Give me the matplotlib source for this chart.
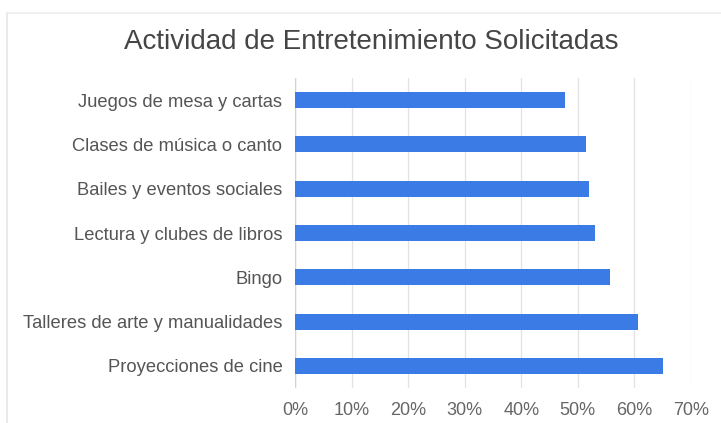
import matplotlib
matplotlib.use("Agg")
import matplotlib.pyplot as plt
from matplotlib.lines import Line2D
from matplotlib.ticker import FuncFormatter, MultipleLocator

plt.rcParams['font.family'] = ['Liberation Sans', 'DejaVu Sans']

actividades = [
    "Juegos de mesa y cartas",
    "Clases de música o canto",
    "Bailes y eventos sociales",
    "Lectura y clubes de libros",
    "Bingo",
    "Talleres de arte y manualidades",
    "Proyecciones de cine",
]
porcentajes = [0.477, 0.515, 0.520, 0.531, 0.557, 0.606, 0.651]

W, H = 721, 423
fig = plt.figure(figsize=(W / 100, H / 100), dpi=100)
fig.patch.set_facecolor("white")

# marco gris claro del gráfico
fig.add_artist(Line2D([7 / W, 7 / W], [0, 1 - 13 / H], color="#e6e6e6", lw=1.2))
fig.add_artist(Line2D([7 / W, 1], [1 - 13 / H, 1 - 13 / H], color="#eeeeee", lw=1.2))

ax = fig.add_axes([295 / W, 1 - 388 / H, (691 - 295) / W, (388 - 78) / H])

pos = list(range(len(actividades)))
ax.barh(pos, porcentajes, height=0.36, color="#3a7be6", zorder=3)

ax.set_ylim(len(actividades) - 0.5, -0.5)
ax.set_yticks(pos)
ax.set_yticklabels(actividades)
ax.set_xlim(0, 0.70)
ax.xaxis.set_major_locator(MultipleLocator(0.10))
ax.xaxis.set_major_formatter(FuncFormatter(lambda v, _: f"{v * 100:.0f}%"))

ax.grid(axis="x", color="#e2e2e2", lw=0.9, zorder=0)
for s in ax.spines.values():
    s.set_visible(False)
ax.axvline(0, color="#d2d2d2", lw=1.0, zorder=2)

ax.tick_params(axis="y", length=0, pad=9, labelsize=13.2, labelcolor="#555555")
ax.tick_params(axis="x", length=0, pad=10, labelsize=13, labelcolor="#666666")

fig.text(371 / W, 1 - 42 / H, "Actividad de Entretenimiento Solicitadas",
         ha="center", va="center", fontsize=20, color="#454545")

fig.savefig("out.png", dpi=100, facecolor="white")
